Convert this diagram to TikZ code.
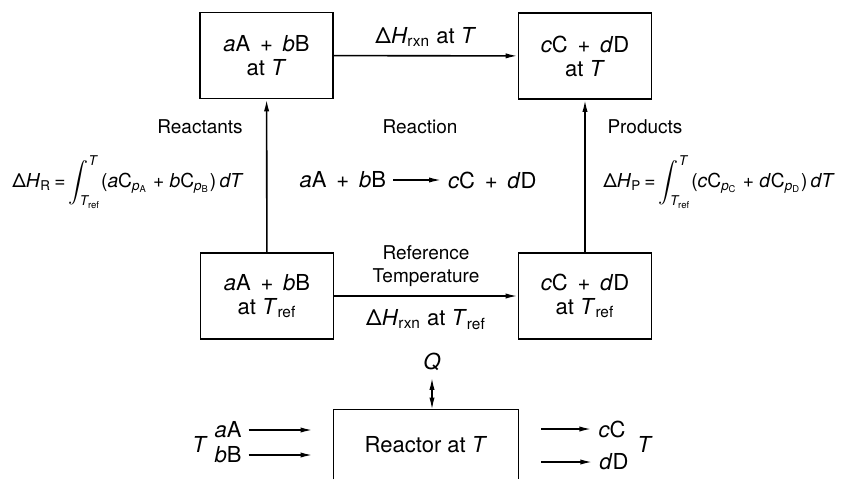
\documentclass[tikz,border=0pt]{standalone}
\usepackage{amsmath}
\usepackage{fontspec}
\setmainfont{TeX Gyre Heros}
\usetikzlibrary{arrows.meta}
\newcommand{\Tr}{\textit{T}\textsubscript{ref}}
\newcommand{\dHrxn}{Δ\textit{H}\textsubscript{rxn}}
\newcommand{\limtxt}[1]{\text{\itshape #1}}
\begin{document}
\begin{tikzpicture}[x=0.5pt, y=-0.5pt, >={Latex[length=6pt,width=2.6pt]},
    state/.style={draw, line width=0.8pt, minimum width=66.5pt, minimum height=43pt,
        align=center, font=\fontsize{11}{12}\selectfont},
    lbl/.style={font=\fontsize{9.5}{11.5}\selectfont, align=center},
    big/.style={font=\fontsize{11}{13}\selectfont},
    eqn/.style={font=\fontsize{9.6}{11}\selectfont, inner sep=0pt},
    flow/.style={->, line width=0.8pt}]
    \useasboundingbox (0,0) rectangle (841,479);

    % Four states
    \node[state] (rT)   at (266.5, 55.5) {\textit{a}A \,+\, \textit{b}B\\at \textit{T}};
    \node[state] (pT)   at (585, 56)     {\textit{c}C \,+\, \textit{d}D\\at \textit{T}};
    \node[state] (rRef) at (267, 296)    {\textit{a}A \,+\, \textit{b}B\\at \Tr};
    \node[state] (pRef) at (585, 296)    {\textit{c}C \,+\, \textit{d}D\\at \Tr};

    % Paths between states
    \draw[flow] (rT) -- node[big, above=1pt] {\dHrxn\ at \textit{T}} (pT);
    \draw[flow] (rRef) -- node[lbl, above=1pt] {Reference\\Temperature}
        node[big, below=3pt] {\dHrxn\ at \Tr} (pRef);
    \draw[flow] (rRef) -- (rT);
    \draw[flow] (pRef) -- (pT);

    % Labels of the paths
    \node[lbl] (reac) at (200, 127) {Reactants};
    \node[lbl] (rxn)  at (420, 127) {Reaction};
    \node[lbl] (prod) at (645, 127) {Products};

    \node[eqn] (dHR) at (128, 182) {Δ\textit{H}\textsubscript{R}\,=\,$\displaystyle\int_{\limtxt{T}_{\text{ref}}}^{\limtxt{T}}$(\textit{a}C\textsubscript{\textit{p}\textsubscript{A}} + \textit{b}C\textsubscript{\textit{p}\textsubscript{B}})\,\textit{dT}};
    \node[eqn] (dHP) at (719, 182) {Δ\textit{H}\textsubscript{P}\,=\,$\displaystyle\int_{\limtxt{T}_{\text{ref}}}^{\limtxt{T}}$(\textit{c}C\textsubscript{\textit{p}\textsubscript{C}} + \textit{d}C\textsubscript{\textit{p}\textsubscript{D}})\,\textit{dT}};

    % Overall reaction
    \node[big, anchor=east] (eqL) at (393, 180) {\textit{a}A \,+\, \textit{b}B};
    \node[big, anchor=west] (eqR) at (441, 180) {\textit{c}C \,+\, \textit{d}D};
    \draw[->, line width=0.7pt] (eqL) -- (eqR);

    % Reactor
    \node[big, minimum width=92pt, minimum height=34.5pt] (reactor) at (426, 444.5) {Reactor at \textit{T}};
    \draw[line width=0.8pt] (reactor.south west) -- (reactor.north west)
        -- (reactor.north east) -- (reactor.south east);
    \node[big] (Q) at (432, 362) {\textit{Q}};
    \draw[<->, line width=0.7pt] (Q) -- (Q |- reactor.north);

    % Feed and product streams
    \node[big] (inA) at (228, 430) {\textit{a}A};
    \node[big] (inB) at (228, 455) {\textit{b}B};
    \node[big] (inT) at (200, 444) {\textit{T}};
    \node[big] (outC) at (612, 429) {\textit{c}C};
    \node[big] (outD) at (614, 462) {\textit{d}D};
    \node[big] (outT) at (645, 444) {\textit{T}};
    \draw[flow] (inA.east) -- ([xshift=-10.5pt]inA.east -| reactor.west);
    \draw[flow] (inB.east) -- ([xshift=-10.5pt]inB.east -| reactor.west);
    \draw[flow] ([xshift=11.5pt]outC.west -| reactor.east) -- (outC.west);
    \draw[flow] ([xshift=11.5pt]outD.west -| reactor.east) -- (outD.west);
\end{tikzpicture}
\end{document}
